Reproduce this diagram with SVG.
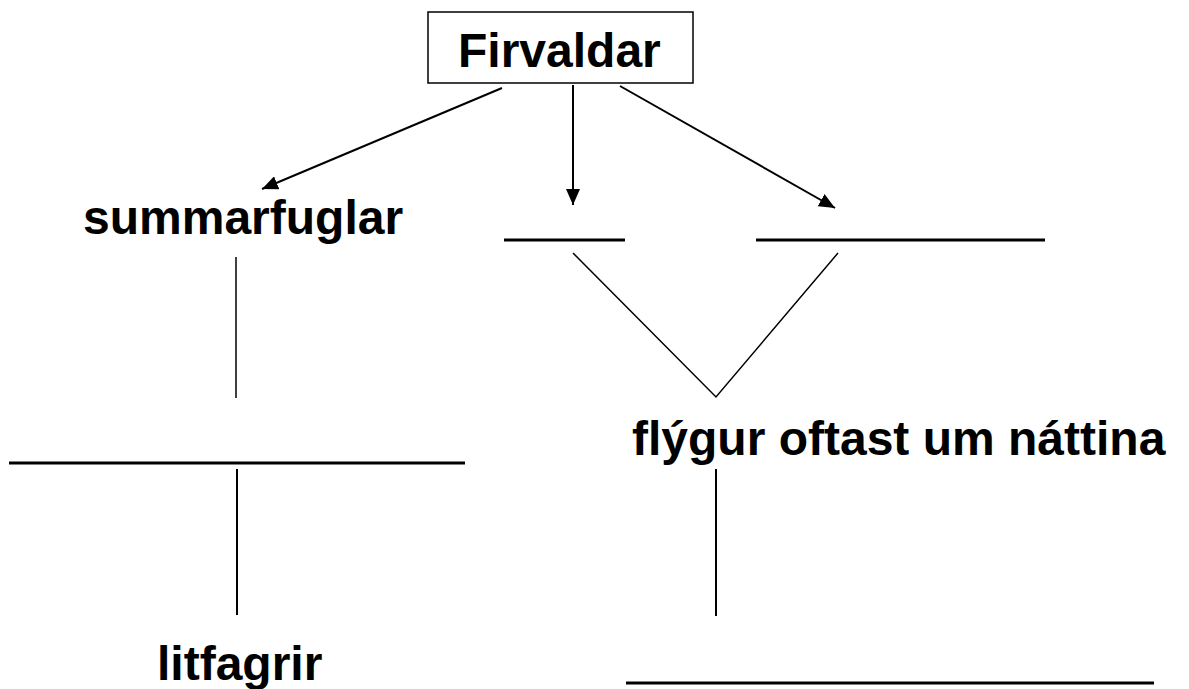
<svg xmlns="http://www.w3.org/2000/svg" width="1189" height="689" viewBox="0 0 1189 689">
<style>
text{font-family:"Liberation Sans",Arial,sans-serif;font-weight:bold;font-size:48px;fill:#000}
.c{stroke:#000;stroke-width:2;fill:none}
.t{stroke:#000;stroke-width:1.5;fill:none}
.u{stroke:#000;stroke-width:3;fill:none}
</style>
<defs>
<marker id="ah" markerUnits="userSpaceOnUse" markerWidth="16" markerHeight="14" refX="16" refY="7" orient="auto">
<path d="M0,0 L16,7 L0,14 Z" fill="#000"/>
</marker>
</defs>
<rect width="1189" height="689" fill="#fff"/>
<g id="firvaldar">
<rect x="428" y="12" width="265" height="71" fill="#fff" stroke="#000" stroke-width="1.5"/>
<text x="458" y="67">Firvaldar</text>
</g>
<g id="summarfuglar"><text x="83" y="234">summarfuglar</text></g>
<g id="blank1"><line class="u" x1="504" y1="240" x2="625" y2="240"/></g>
<g id="blank2"><line class="u" x1="756" y1="240" x2="1045" y2="240"/></g>
<g id="blank3"><line class="u" x1="9" y1="463" x2="465" y2="463"/></g>
<g id="flygur"><text x="632" y="455">flýgur oftast um náttina</text></g>
<g id="litfagrir"><text x="157" y="680">litfagrir</text></g>
<g id="blank4"><line class="u" x1="626" y1="683" x2="1154" y2="683"/></g>
<g id="connectors">
<line class="c" x1="502" y1="88" x2="262" y2="189" marker-end="url(#ah)"/>
<line class="c" x1="573" y1="85" x2="573" y2="205" marker-end="url(#ah)"/>
<line class="c" x1="620" y1="86" x2="835" y2="208" marker-end="url(#ah)"/>
<line class="t" x1="236" y1="257" x2="236" y2="398"/>
<line class="c" x1="237" y1="469" x2="237" y2="615"/>
<polyline class="t" points="573,253 716,397 838,253"/>
<line class="c" x1="716" y1="469" x2="716" y2="616"/>
</g>
</svg>
